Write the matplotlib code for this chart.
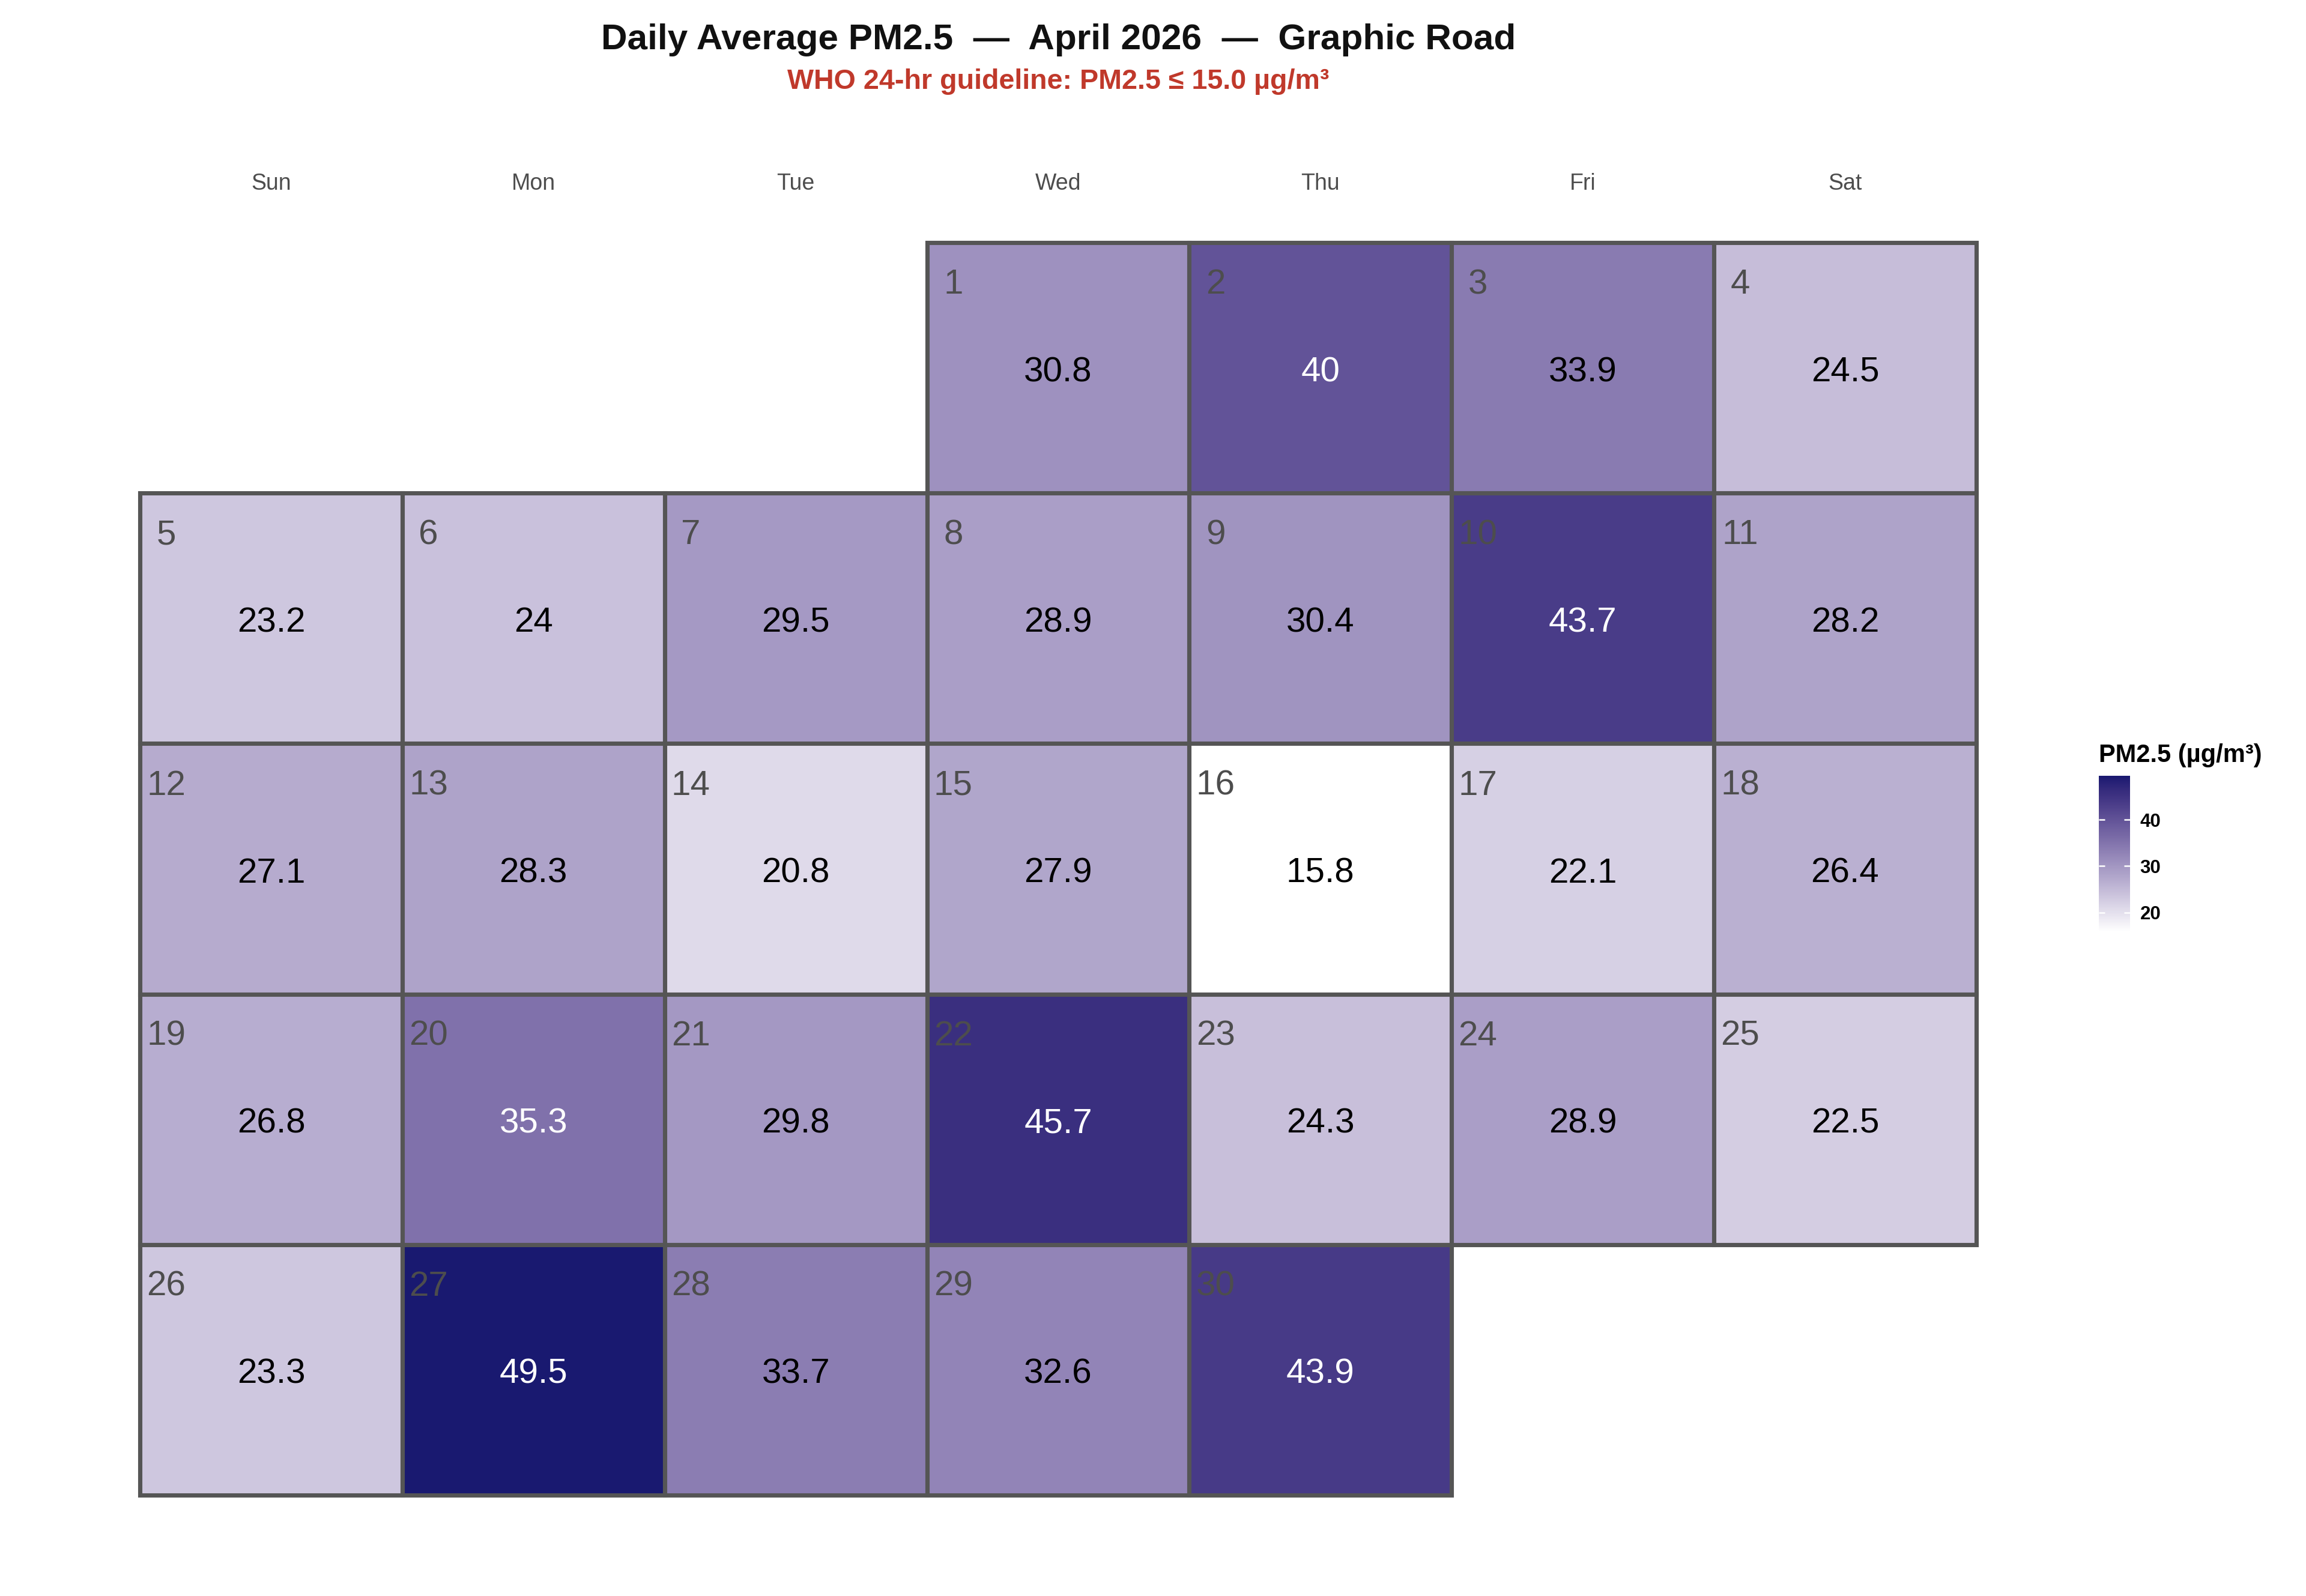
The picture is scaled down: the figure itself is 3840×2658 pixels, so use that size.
import numpy as np
import matplotlib
matplotlib.use("Agg")
import matplotlib.pyplot as plt
import matplotlib.colors as mcolors
from matplotlib.patches import Rectangle

plt.rcParams['font.family'] = ['Liberation Sans', 'DejaVu Sans']

# ---- data ----
DAYS = list(range(1, 31))
PM25 = [30.8, 40.0, 33.9, 24.5, 23.2, 24.0, 29.5, 28.9, 30.4, 43.7,
        28.2, 27.1, 28.3, 20.8, 27.9, 15.8, 22.1, 26.4, 26.8, 35.3,
        29.8, 45.7, 24.3, 28.9, 22.5, 23.3, 49.5, 33.7, 32.6, 43.9]
WEEKDAYS = ['Sun', 'Mon', 'Tue', 'Wed', 'Thu', 'Fri', 'Sat']
FIRST_WEEKDAY = 3  # April 1 2026 is a Wednesday (Sun = 0)
TICKS = [20, 30, 40]


def srgbToLab(hex_color):
    rgb = np.array(mcolors.to_rgb(hex_color))
    lin = np.where(rgb <= 0.04045, rgb / 12.92, ((rgb + 0.055) / 1.055) ** 2.4)
    m = np.array([[0.4124564, 0.3575761, 0.1804375],
                  [0.2126729, 0.7151522, 0.0721750],
                  [0.0193339, 0.1191920, 0.9503041]])
    xyz = m @ lin / np.array([0.95047, 1.0, 1.08883])
    f = np.where(xyz > 216 / 24389, np.cbrt(xyz), (24389 / 27 * xyz + 16) / 116)
    return np.array([116 * f[1] - 16, 500 * (f[0] - f[1]), 200 * (f[1] - f[2])])


def labToSrgb(lab):
    fy = (lab[0] + 16) / 116
    fx = fy + lab[1] / 500
    fz = fy - lab[2] / 200
    f = np.array([fx, fy, fz])
    xyz = np.where(f ** 3 > 216 / 24389, f ** 3, (116 * f - 16) / (24389 / 27))
    xyz = xyz * np.array([0.95047, 1.0, 1.08883])
    minv = np.array([[3.2404542, -1.5371385, -0.4985314],
                     [-0.9692660, 1.8760108, 0.0415560],
                     [0.0556434, -0.2040259, 1.0572252]])
    lin = np.clip(minv @ xyz, 0, 1)
    rgb = np.where(lin <= 0.0031308, 12.92 * lin, 1.055 * lin ** (1 / 2.4) - 0.055)
    return np.clip(rgb, 0, 1)


# gradient white -> midnightblue interpolated in Lab space
lab_lo = srgbToLab('#FFFFFF')
lab_hi = srgbToLab('#191970')
CMAP = mcolors.ListedColormap([labToSrgb(lab_lo + t * (lab_hi - lab_lo))
                               for t in np.linspace(0, 1, 256)])
NORM = mcolors.Normalize(vmin=min(PM25), vmax=max(PM25))

fig = plt.figure(figsize=(12.8, 8.86), dpi=300)
ax = fig.add_axes([0.0607, 0.0632, 0.7963, 0.7848])
ax.set_xlim(0.5, 7.5)
ax.set_ylim(5.5, 0.5)
ax.axis('off')

for day, val in zip(DAYS, PM25):
    pos = FIRST_WEEKDAY + day - 1
    col = pos % 7 + 1
    row = pos // 7 + 1
    ax.add_patch(Rectangle((col - 0.5, row - 0.5), 1, 1,
                           facecolor=CMAP(NORM(val)), edgecolor='#555555',
                           linewidth=1.7, clip_on=False))
    ax.text(col - 0.4, row - 0.332, str(day), fontsize=14, color='#4d4d4d',
            ha='center', va='center')
    ax.text(col, row + 0.018, f"{val:g}", fontsize=14,
            color='white' if val >= 35 else 'black', ha='center', va='center')

for i, wd in enumerate(WEEKDAYS):
    ax.text(i + 1, 0.265, wd, fontsize=9, color='#4d4d4d', ha='center',
            va='center', clip_on=False)

fig.text(0.459, 0.975, "Daily Average PM2.5  \u2014  April 2026  \u2014  Graphic Road",
         fontsize=14.5, fontweight='bold', ha='center', va='center', color='#111111')
fig.text(0.459, 0.949, "WHO 24-hr guideline: PM2.5 \u2264 15.0 \u00b5g/m\u00b3",
         fontsize=11.2, fontweight='bold', ha='center', va='center', color='#C0392B')

# ---- colour bar legend ----
cax = fig.add_axes([0.9102, 0.4161, 0.0135, 0.0978])
cbar = fig.colorbar(plt.cm.ScalarMappable(norm=NORM, cmap=CMAP), cax=cax,
                    ticks=TICKS)
cbar.outline.set_visible(False)
cax.tick_params(axis='y', direction='in', color='white', length=2.4, width=0.6,
                left=True, right=True, labelsize=7.5, pad=4)
for lbl in cax.get_yticklabels():
    lbl.set_fontweight('bold')
fig.text(0.9102, 0.5225, "PM2.5 (\u00b5g/m\u00b3)", fontsize=10, fontweight='bold',
         ha='left', va='baseline')

fig.savefig("out.png", dpi=300)
